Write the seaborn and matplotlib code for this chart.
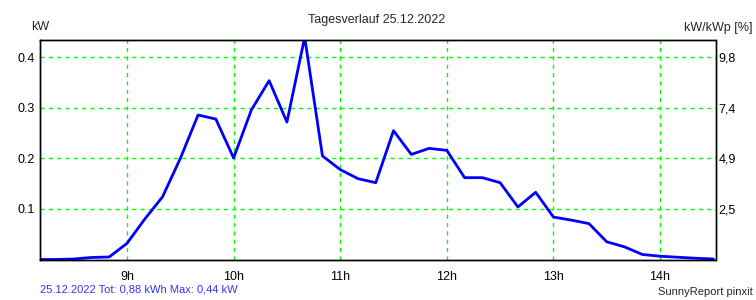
import matplotlib
matplotlib.use("Agg")
import matplotlib.pyplot as plt
import seaborn as sns
import pandas as pd
import numpy as np

# Data (10-minute readings, kW)
times = ["08:10", "08:20", "08:30", "08:40", "08:50", "09:00", "09:10", "09:20",
         "09:30", "09:40", "09:50", "10:00", "10:10", "10:20", "10:30", "10:40",
         "10:50", "11:00", "11:10", "11:20", "11:30", "11:40", "11:50", "12:00",
         "12:10", "12:20", "12:30", "12:40", "12:50", "13:00", "13:10", "13:20",
         "13:30", "13:40", "13:50", "14:00", "14:10", "14:20", "14:30"]
power_kw = [0.0, 0.0, 0.001, 0.004, 0.005, 0.032, 0.080, 0.124,
            0.200, 0.286, 0.278, 0.201, 0.296, 0.354, 0.272, 0.440,
            0.205, 0.178, 0.160, 0.152, 0.255, 0.208, 0.220, 0.216,
            0.162, 0.162, 0.152, 0.104, 0.133, 0.084, 0.078, 0.071,
            0.035, 0.025, 0.010, 0.0065, 0.0045, 0.0025, 0.001]

hour_ticks = [9, 10, 11, 12, 13, 14]
hour_labels = ["9h", "10h", "11h", "12h", "13h", "14h"]
kw_ticks = [0.1, 0.2, 0.3, 0.4]
kw_labels = ["0.1", "0.2", "0.3", "0.4"]
pct_labels = ["2,5", "4,9", "7,4", "9,8"]

title = "Tagesverlauf 25.12.2022"
footer_left = "25.12.2022 Tot: 0,88 kWh Max: 0,44 kW"
footer_right = "SunnyReport pinxit"

hours = [int(t[:2]) + int(t[3:]) / 60 for t in times]
df = pd.DataFrame({"hour": hours, "kw": power_kw})

sns.set_theme(style="white")
plt.rcParams["font.family"] = ["Liberation Sans", "DejaVu Sans"]

fig = plt.figure(figsize=(7.56, 3.0), dpi=100)
ax = fig.add_axes([40 / 756, 1 - 259.5 / 300, (715.5 - 40) / 756, (259.5 - 40) / 300])

sns.lineplot(data=df, x="hour", y="kw", ax=ax, color="#0000ff", linewidth=2.0,
             estimator=None, sort=False)

ax.set_xlim(8.184, 14.52)
ax.set_ylim(0, 0.4345)
ax.set_xticks(hour_ticks)
ax.set_xticklabels(hour_labels)
ax.set_yticks(kw_ticks)
ax.set_yticklabels(kw_labels)
ax.set_xlabel("")
ax.set_ylabel("")
ax.grid(True, color="#00ff00", linestyle=(0, (3, 3)), linewidth=1.0)
ax.tick_params(axis="both", length=0, labelsize=9, colors="black")
ax.tick_params(axis="x", pad=8)
ax.tick_params(axis="y", pad=4)
for s in ax.spines.values():
    s.set_color("black")
    s.set_linewidth(1.0)

ax2 = ax.twinx()
ax2.set_ylim(ax.get_ylim())
ax2.set_yticks(kw_ticks)
ax2.set_yticklabels(pct_labels)
ax2.tick_params(axis="y", length=0, labelsize=9, pad=2, colors="black")
for s in ax2.spines.values():
    s.set_color("black")
    s.set_linewidth(1.0)
ax2.grid(False)

fig.text(377 / 756, 1 - 20 / 300, title, ha="center", va="center", fontsize=9)
fig.text(31 / 756, 1 - 27 / 300, "kW", ha="left", va="center", fontsize=9)
fig.text(753 / 756, 1 - 28 / 300, "kW/kWp [%]", ha="right", va="center", fontsize=9)
fig.text(40 / 756, 1 - 289 / 300, footer_left, ha="left", va="center", fontsize=8,
         color="#3333ff")
fig.text(753 / 756, 1 - 292 / 300, footer_right, ha="right", va="center", fontsize=8)

fig.savefig("out.png", dpi=100)
